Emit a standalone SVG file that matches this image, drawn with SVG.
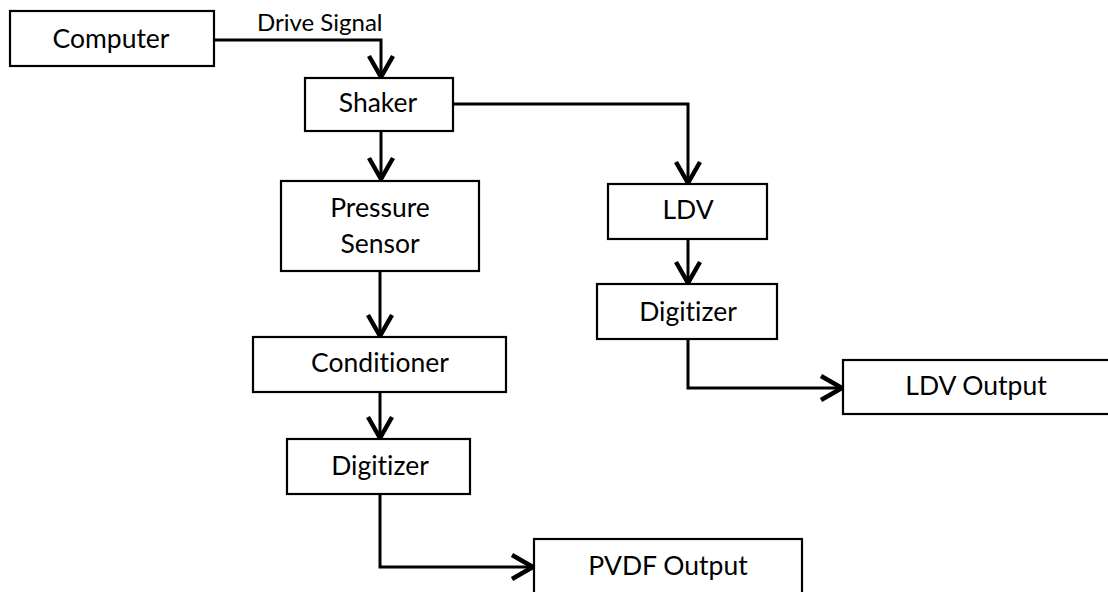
<svg xmlns="http://www.w3.org/2000/svg" width="1108" height="592" viewBox="0 0 1108 592">
<defs>
<style>
.box{fill:#fff;stroke:#000;stroke-width:2.2}
.lbl{font-family:Lato,"Liberation Sans",sans-serif;font-size:26.5px;fill:#000;text-anchor:middle;font-variant-ligatures:none}
.edge{fill:none;stroke:#000;stroke-width:3;stroke-linejoin:miter}
.sig{font-family:Lato,"Liberation Sans",sans-serif;font-size:24px;fill:#000;font-variant-ligatures:none}
</style>
<marker id="arr" markerUnits="userSpaceOnUse" markerWidth="30" markerHeight="30" viewBox="-16 -10 20 20" refX="0" refY="0" orient="auto">
<path d="M-14,-8 L0,0 L-14,8" fill="none" stroke="#000" stroke-width="3"/>
</marker>
</defs>
<rect width="1108" height="592" fill="#fff"/>
<g id="connectors">
<path class="edge" d="M214,40 H381 V77" marker-end="url(#arr)"/>
<path class="edge" d="M381,131 V179" marker-end="url(#arr)"/>
<path class="edge" d="M453,104 H688 V183" marker-end="url(#arr)"/>
<path class="edge" d="M380,271 V336" marker-end="url(#arr)"/>
<path class="edge" d="M380,392 V438" marker-end="url(#arr)"/>
<path class="edge" d="M688,239 V283" marker-end="url(#arr)"/>
<path class="edge" d="M688,339 V388 H842" marker-end="url(#arr)"/>
<path class="edge" d="M380,494 V567 H533" marker-end="url(#arr)"/>
<text class="sig" x="257" y="31">Drive Signal</text>
</g>
<g id="computer"><rect class="box" x="10" y="11" width="204" height="55"/><text class="lbl" x="111" y="48">Computer</text></g>
<g id="shaker"><rect class="box" x="305" y="78" width="148" height="53"/><text class="lbl" x="378" y="112">Shaker</text></g>
<g id="pressure-sensor"><rect class="box" x="281" y="181" width="198" height="90"/><text class="lbl" x="380" y="217">Pressure</text><text class="lbl" x="380" y="253">Sensor</text></g>
<g id="conditioner"><rect class="box" x="253" y="337" width="253" height="55"/><text class="lbl" x="380" y="372">Conditioner</text></g>
<g id="digitizer-left"><rect class="box" x="287" y="439" width="183" height="55"/><text class="lbl" x="380" y="475">Digitizer</text></g>
<g id="pvdf-output"><rect class="box" x="534" y="539" width="268" height="70"/><text class="lbl" x="668" y="575">PVDF Output</text></g>
<g id="ldv"><rect class="box" x="608" y="184" width="159" height="55"/><text class="lbl" x="688" y="219">LDV</text></g>
<g id="digitizer-right"><rect class="box" x="597" y="284" width="180" height="55"/><text class="lbl" x="688" y="321">Digitizer</text></g>
<g id="ldv-output"><rect class="box" x="843" y="360" width="280" height="54"/><text class="lbl" x="976" y="395">LDV Output</text></g>
</svg>
